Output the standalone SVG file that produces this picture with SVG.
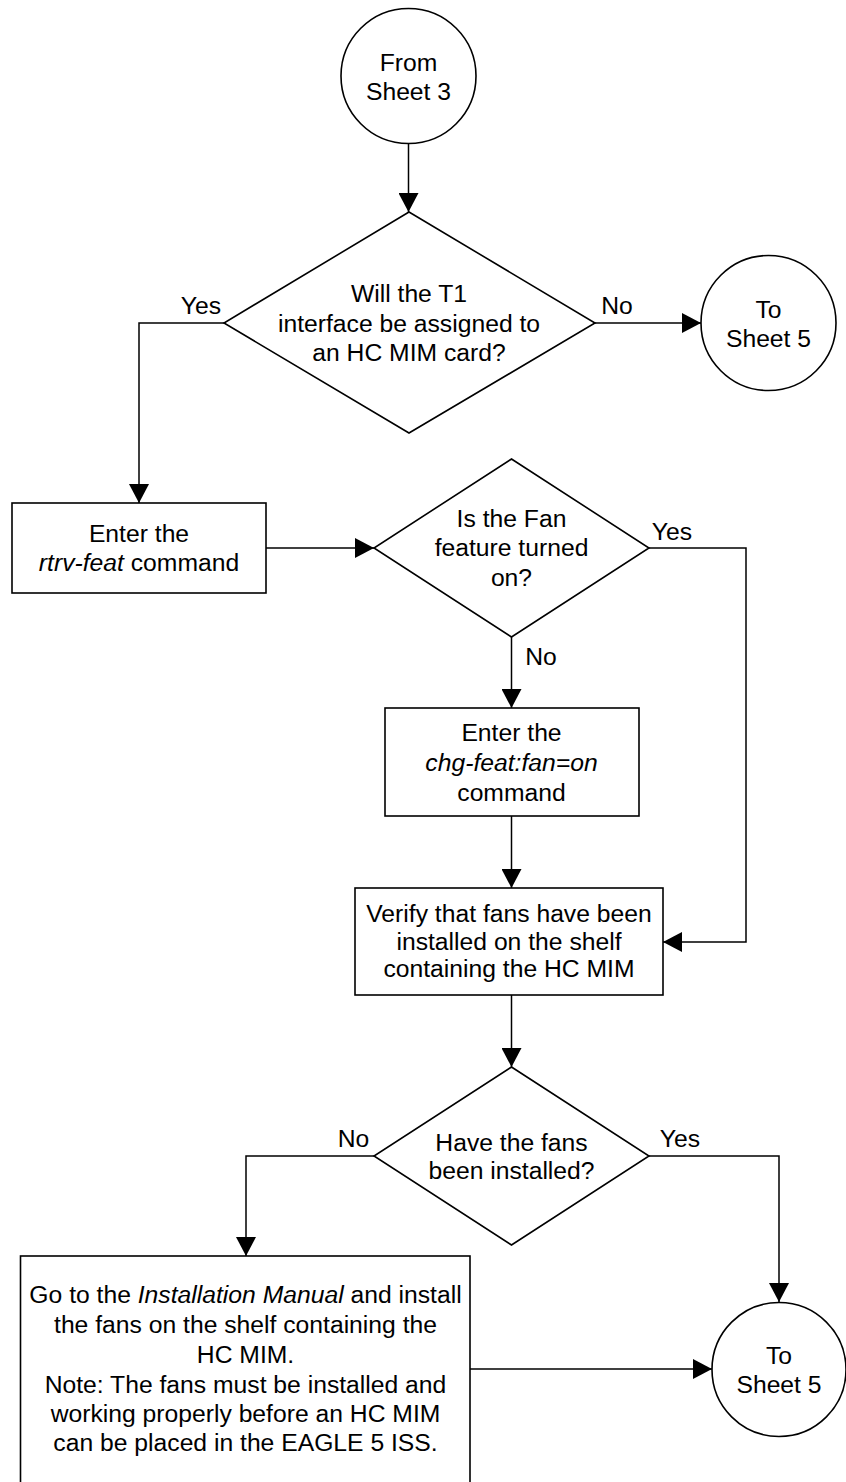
<svg xmlns="http://www.w3.org/2000/svg" width="846" height="1482" viewBox="0 0 846 1482">
<style>
  .shape { fill: #ffffff; stroke: #000000; stroke-width: 1.6; }
  .conn { fill: none; stroke: #000000; stroke-width: 1.5; }
  .arr { marker-end: url(#ah); }
  text { font-family: "Liberation Sans", Arial, sans-serif; font-size: 24.7px; fill: #000000; text-anchor: middle; }
  .it { font-style: italic; }
</style>
<defs>
  <marker id="ah" markerUnits="userSpaceOnUse" viewBox="0 0 19 20" markerWidth="19" markerHeight="20" refX="19" refY="10" orient="auto">
    <path d="M0,0 L19,10 L0,20 Z" fill="#000000"/>
  </marker>
</defs>
<rect width="846" height="1482" fill="#ffffff"/>

<g id="connectors">
  <path class="conn arr" d="M408.5,143.5 L408.5,212"/>
  <path class="conn arr" d="M224,323 L139,323 L139,503"/>
  <path class="conn arr" d="M595,323 L701,323"/>
  <path class="conn arr" d="M266,548 L374,548"/>
  <path class="conn arr" d="M649,548 L746,548 L746,942 L663,942"/>
  <path class="conn arr" d="M511.5,637 L511.5,708"/>
  <path class="conn arr" d="M511.5,816 L511.5,888"/>
  <path class="conn arr" d="M511.5,995 L511.5,1067"/>
  <path class="conn arr" d="M374,1156 L246,1156 L246,1256"/>
  <path class="conn arr" d="M649,1156 L779,1156 L779,1302"/>
  <path class="conn arr" d="M470,1369 L712,1369"/>
  <text x="201" y="314">Yes</text>
  <text x="617" y="314">No</text>
  <text x="672" y="540">Yes</text>
  <text x="541" y="665">No</text>
  <text x="353.5" y="1147">No</text>
  <text x="680" y="1147">Yes</text>
</g>

<g id="from-sheet-3">
  <circle class="shape" cx="408.5" cy="76" r="67.5"/>
  <text x="408.5" y="70.5">From</text>
  <text x="408.5" y="99.5">Sheet 3</text>
</g>

<g id="decision-t1-hcmim">
  <polygon class="shape" points="409,212 595,323 409,433 224,323"/>
  <text x="409" y="302">Will the T1</text>
  <text x="409" y="332">interface be assigned to</text>
  <text x="409" y="361">an HC MIM card?</text>
</g>

<g id="to-sheet-5-top">
  <circle class="shape" cx="768.5" cy="323" r="67.5"/>
  <text x="768.5" y="317.5">To</text>
  <text x="768.5" y="346.5">Sheet 5</text>
</g>

<g id="rtrv-feat">
  <rect class="shape" x="12" y="503" width="254" height="90"/>
  <text x="139" y="542">Enter the</text>
  <text x="139" y="571"><tspan class="it">rtrv-feat</tspan> command</text>
</g>

<g id="decision-fan-on">
  <polygon class="shape" points="511.5,459 649,548 511.5,637 374,548"/>
  <text x="511.5" y="527">Is the Fan</text>
  <text x="511.5" y="556">feature turned</text>
  <text x="511.5" y="586">on?</text>
</g>

<g id="chg-feat">
  <rect class="shape" x="385" y="708" width="254" height="108"/>
  <text x="511.5" y="741">Enter the</text>
  <text x="511.5" y="771" class="it">chg-feat:fan=on</text>
  <text x="511.5" y="801">command</text>
</g>

<g id="verify-fans">
  <rect class="shape" x="355" y="888" width="308" height="107"/>
  <text x="509" y="922">Verify that fans have been</text>
  <text x="509" y="949.5">installed on the shelf</text>
  <text x="509" y="977">containing the HC MIM</text>
</g>

<g id="decision-fans-installed">
  <polygon class="shape" points="511.5,1067 649,1156 511.5,1245 374,1156"/>
  <text x="511.5" y="1151">Have the fans</text>
  <text x="511.5" y="1179">been installed?</text>
</g>

<g id="install-fans">
  <rect class="shape" x="20.5" y="1256" width="449.5" height="240"/>
  <text x="245.5" y="1303">Go to the <tspan class="it">Installation Manual</tspan> and install</text>
  <text x="245.5" y="1332.5">the fans on the shelf containing the</text>
  <text x="245.5" y="1362.5">HC MIM.</text>
  <text x="245.5" y="1392.5">Note: The fans must be installed and</text>
  <text x="245.5" y="1422">working properly before an HC MIM</text>
  <text x="245.5" y="1451">can be placed in the EAGLE 5 ISS.</text>
</g>

<g id="to-sheet-5-bottom">
  <circle class="shape" cx="779" cy="1369.5" r="67"/>
  <text x="779" y="1364">To</text>
  <text x="779" y="1393">Sheet 5</text>
</g>
</svg>
